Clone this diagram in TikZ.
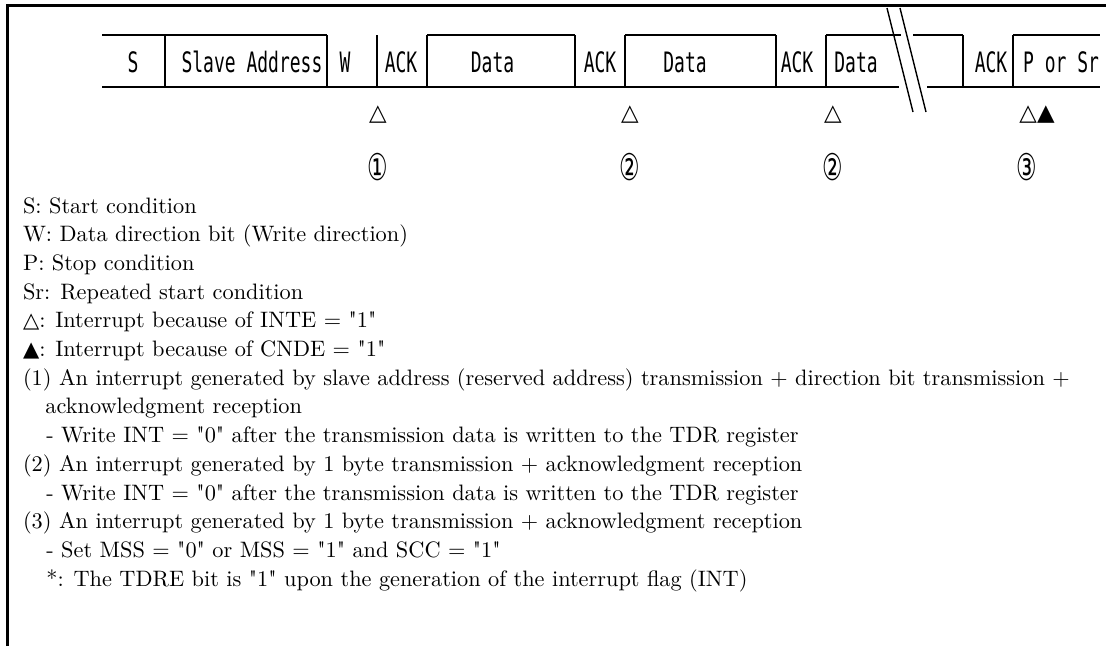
\documentclass[tikz,border=0pt]{standalone}
\usepackage{fontspec}
\defaultfontfeatures[\rmfamily]{}
\setmainfont{lmroman10-regular.otf}
\newfontfamily\fieldfont[FakeStretch=0.64]{DejaVu Sans Mono}
\newfontfamily\symbolfont{DejaVu Sans}
\newfontfamily\circledfont[FakeStretch=0.62]{DejaVu Sans}
\newcommand{\legsym}[1]{{\symbolfont\fontsize{12}{15}\selectfont #1}}

\begin{document}
\begin{tikzpicture}[
  field/.style={inner sep=0pt, font=\fieldfont\fontsize{16}{16}\selectfont},
  irqsym/.style={inner sep=0pt, font=\symbolfont\fontsize{13}{13}\selectfont},
  irqnum/.style={inner sep=0pt, font=\circledfont\fontsize{21}{21}\selectfont},
  legend/.style={anchor=base west, inner sep=0pt, font=\fontsize{12.7}{16}\selectfont}]
\useasboundingbox (0,0) rectangle (22.120,12.920);
% frame
\draw[line width=1.5pt] (0.155,0) -- (0.155,12.810) -- (22.120,12.810);
% transfer sequence
\draw[line width=1pt] (2.040,12.220) -- (6.540,12.220);
\draw[line width=1pt] (8.540,12.220) -- (11.500,12.220);
\draw[line width=1pt] (12.500,12.220) -- (15.520,12.220);
\draw[line width=1pt] (16.520,12.220) -- (18.020,12.220);
\draw[line width=1pt] (18.260,12.220) -- (19.260,12.220);
\draw[line width=1pt] (20.260,12.220) -- (22.000,12.220);
\draw[line width=1pt] (2.040,11.180) -- (17.980,11.180);
\draw[line width=1pt] (18.540,11.180) -- (22.000,11.180);
\draw[line width=1pt] (3.300,11.180) -- (3.300,12.220);
\draw[line width=1pt] (6.540,11.180) -- (6.540,12.220);
\draw[line width=1pt] (7.540,11.180) -- (7.540,12.220);
\draw[line width=1pt] (8.540,11.180) -- (8.540,12.220);
\draw[line width=1pt] (11.500,11.180) -- (11.500,12.220);
\draw[line width=1pt] (12.500,11.180) -- (12.500,12.220);
\draw[line width=1pt] (15.520,11.180) -- (15.520,12.220);
\draw[line width=1pt] (16.520,11.180) -- (16.520,12.220);
\draw[line width=1pt] (19.260,11.180) -- (19.260,12.220);
\draw[line width=1pt] (20.260,11.180) -- (20.260,12.220);
% break
\draw[line width=0.8pt] (17.740,12.760) -- (18.260,10.680);
\draw[line width=0.8pt] (18.000,12.760) -- (18.520,10.680);
\node[field] (start) at (2.660,11.680) {S};
\node[field] (slaveaddr) at (5.040,11.680) {Slave Address};
\node[field] (wbit) at (6.900,11.680) {W};
\node[field] (ackA) at (8.020,11.680) {ACK};
\node[field] (dataA) at (9.850,11.680) {Data};
\node[field] (ackB) at (12.000,11.680) {ACK};
\node[field] (dataB) at (13.700,11.680) {Data};
\node[field] (ackC) at (15.940,11.680) {ACK};
\node[field] (dataC) at (17.120,11.680) {Data};
\node[field] (ackD) at (19.820,11.680) {ACK};
\node[field] (stop) at (21.220,11.680) {P or Sr};
% interrupts
\node[irqsym] (irqA) at (7.560,10.630) {△};
\node[irqsym] (irqB) at (12.600,10.630) {△};
\node[irqsym] (irqC) at (16.660,10.630) {△};
\node[irqsym] (irqD) at (20.740,10.630) {△▲};
\node[irqnum] (numA) at (7.560,9.580) {①};
\node[irqnum] (numB) at (12.600,9.580) {②};
\node[irqnum] (numC) at (16.660,9.580) {②};
\node[irqnum] (numD) at (20.540,9.580) {③};
% notes
\node[legend] (keyS) at (0.454,8.660) {S: Start condition};
\node[legend] (keyW) at (0.454,8.086) {W: Data direction bit (Write direction)};
\node[legend] (keyP) at (0.454,7.512) {P: Stop condition};
\node[legend] (keySr) at (0.454,6.938) {Sr: Repeated start condition};
\node[legend] (keyInte) at (0.454,6.364) {\legsym{△}: Interrupt because of INTE = "1"};
\node[legend] (keyCnde) at (0.454,5.790) {\legsym{▲}: Interrupt because of CNDE = "1"};
\node[legend] (noteA) at (0.454,5.216) {(1) An interrupt generated by slave address (reserved address) transmission + direction bit transmission +};
\node[legend] (noteAb) at (0.900,4.642) {acknowledgment reception};
\node[legend] (noteAc) at (0.920,4.068) {- Write INT = "0" after the transmission data is written to the TDR register};
\node[legend] (noteB) at (0.454,3.494) {(2) An interrupt generated by 1 byte transmission + acknowledgment reception};
\node[legend] (noteBb) at (0.920,2.920) {- Write INT = "0" after the transmission data is written to the TDR register};
\node[legend] (noteC) at (0.454,2.346) {(3) An interrupt generated by 1 byte transmission + acknowledgment reception};
\node[legend] (noteCb) at (0.920,1.772) {- Set MSS = "0" or MSS = "1" and SCC = "1"};
\node[legend] (noteTdre) at (0.920,1.198) {*: The TDRE bit is "1" upon the generation of the interrupt flag (INT)};
\end{tikzpicture}
\end{document}
